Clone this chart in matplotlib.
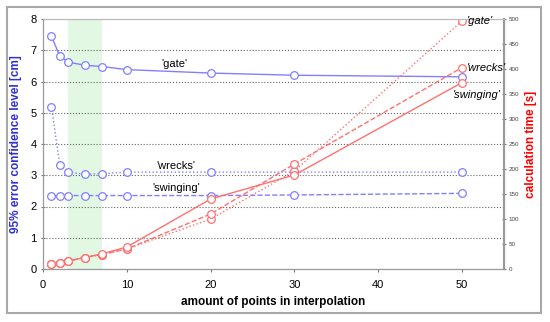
import numpy as np
import matplotlib.pyplot as plt
from matplotlib.patches import Rectangle

plt.rcParams['font.family'] = ['Liberation Sans', 'DejaVu Sans']

# number of points in interpolation
points = [1, 2, 3, 5, 7, 10, 20, 30, 50]

# 95% error confidence level [cm]
err_gate = [7.45, 6.82, 6.62, 6.52, 6.48, 6.38, 6.27, 6.2, 6.15]
err_wrecks = [5.2, 3.34, 3.1, 3.03, 3.05, 3.1, 3.1, 3.1, 3.1]
err_swinging = [2.35, 2.35, 2.35, 2.35, 2.35, 2.35, 2.35, 2.37, 2.42]

# calculation time [s]
time_gate = [10, 12, 16, 23, 29, 40, 100, 196, 496]
time_wrecks = [10, 12, 16, 23, 29, 40, 110, 210, 403]
time_swinging = [10, 12, 16, 23, 30, 44, 140, 188, 373]

blue = '#8080ff'
red = '#ff7070'
spine_col = '#999999'

fig = plt.figure(figsize=(5.5, 3.22), dpi=100)
ax = fig.add_axes([43/550, 1-269/322, (504-43)/550, (269-19)/322])
ax2 = ax.twinx()

# outer frame
fig.patches.append(Rectangle((7/550, 1-313/322), 534/550, 306/322,
                             transform=fig.transFigure, fill=False,
                             edgecolor='#a8a8a8', lw=1.5))

ax.axvspan(3, 7, color='#e2f8e2', zorder=0, lw=0)

mk = dict(marker='o', markersize=5.5, markerfacecolor='white',
          markeredgewidth=0.9)
ax.plot(points, err_gate, '-', color=blue, lw=1, **mk)
ax.plot(points, err_wrecks, ':', color=blue, lw=1, **mk)
ax.plot(points, err_swinging, '--', color=blue, lw=1, **mk)

ax2.plot(points, time_gate, ':', color=red, lw=1, **mk)
ax2.plot(points, time_wrecks, '--', color=red, lw=1, **mk)
ax2.plot(points, time_swinging, '-', color=red, lw=1, **mk)

ax.set_xlim(0, 55)
ax.set_ylim(0, 8)
ax2.set_ylim(0, 500)
ax.set_xticks([0, 10, 20, 30, 40, 50])
ax.set_yticks(range(9))
ax2.set_yticks(range(0, 501, 50))

ax.yaxis.grid(True, linestyle=':', color='#666666', lw=0.8)
ax.set_axisbelow(True)

for a in (ax, ax2):
    for s in a.spines.values():
        s.set_color(spine_col)
    a.spines['top'].set_color('#bbbbbb')
ax2.spines['right'].set_linewidth(1.5)

ax.tick_params(axis='y', direction='inout', length=3, width=0.8,
               color='#777777', labelsize=8, pad=3)
ax.tick_params(axis='x', direction='out', length=2, width=0.8,
               color='#777777', labelsize=8, pad=6)
ax2.tick_params(axis='y', direction='inout', length=3, width=0.8,
                color='#777777', labelsize=4.5, labelcolor='#444444', pad=2)

ax.set_xlabel('amount of points in interpolation', fontsize=8.5,
              fontweight='bold', labelpad=4)
ax.set_ylabel('95% error confidence level [cm]', fontsize=8.5,
              fontweight='bold', color='#3030d0', labelpad=6)
ax2.set_ylabel('calculation time [s]', fontsize=8.5, fontweight='bold',
               color='red', labelpad=4)

ax.text(15.7, 6.56, "'gate'", fontsize=8, ha='center', va='center')
ax.text(15.9, 3.29, "'wrecks'", fontsize=8, ha='center', va='center')
ax.text(15.9, 2.59, "'swinging'", fontsize=8, ha='center', va='center')

ax2.text(50.6, 496, "'gate'", fontsize=8, style='italic', va='center')
ax2.text(50.6, 402, "'wrecks'", fontsize=8, style='italic', va='center')
ax2.text(48.9, 348, "'swinging'", fontsize=8, style='italic', va='center')

fig.savefig('out.png', dpi=100)
